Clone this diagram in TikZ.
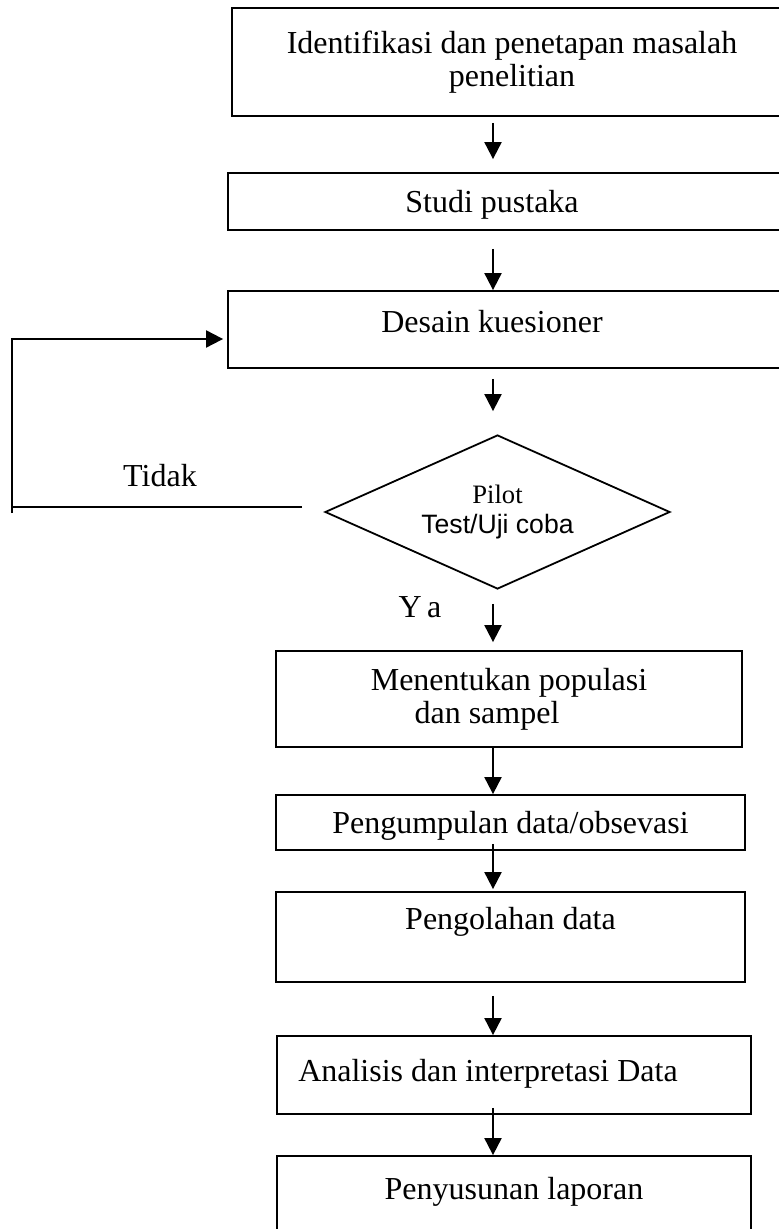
\documentclass[tikz,border=0pt]{standalone}
\usepackage{fontspec}
\setmainfont{Liberation Serif}
\newfontfamily\arialfont{Liberation Sans}
\usetikzlibrary{arrows.meta,positioning,shapes.geometric}

\begin{document}
\begin{tikzpicture}[x=0.5pt, y=-0.5pt, font=\fontsize{16}{16.5}\selectfont, box/.style={draw, line width=0.9pt, align=center, inner sep=0pt}, one/.style={text height=12pt, text depth=#1}, decide/.style={diamond, draw, line width=0.9pt, inner sep=0pt, aspect=2.24, minimum width=172.5pt, minimum height=77pt, align=center, font=\fontsize{13.3}{15}\selectfont}, arr/.style={-{Triangle[width=8.5pt,length=8.5pt]}, line width=1pt}, line/.style={line width=1pt}]
\useasboundingbox (0,0) rectangle (778,1229);
\node[box, minimum width=280pt, minimum height=54pt] (ident) at (512,62) {Identifikasi dan penetapan masalah\\penelitian};
\node[box, one=1pt, minimum width=286pt, minimum height=28.5pt] (studi) at (514,201.5) {Studi pustaka\hspace*{22pt}};
\node[box, one=8.5pt, minimum width=286pt, minimum height=38.5pt] (desain) at (514,329.5) {Desain kuesioner\hspace*{22pt}};
\node[decide] (pilot) at (497.5,512) {Pilot\\{\arialfont Test/Uji coba}};
\node[box, minimum width=233pt, minimum height=48pt] (popul) at (509,699) {Menentukan populasi\\dan sampel\hspace*{22pt}};
\node[box, one=1pt, minimum width=234.5pt, minimum height=27.5pt] (kumpul) at (510.5,822.5) {Pengumpulan data/obsevasi};
\node[box, one=20pt, minimum width=234.5pt, minimum height=45pt] (olah) at (510.5,937) {Pengolahan data};
\node[box, one=6pt, minimum width=237pt, minimum height=39pt] (analisis) at (514,1075) {Analisis dan interpretasi Data\hspace*{26pt}};
\node[box, one=16pt, minimum width=237pt, minimum height=47pt] (laporan) at (514,1203) {Penyusunan laporan};
\node (tidak) at (160,476) {Tidak};
\node (ya) at (420,607) {Y\,a};
\coordinate (ax) at (493,0);
\coordinate (nobranch) at (302,507);
\coordinate (nocorner) at (12,507);
% main flow
\draw[arr, shorten <=3pt, shorten >=6.5pt] (ident.south -| ax) -- (studi.north -| ax);
\draw[arr, shorten <=9pt] (studi.south -| ax) -- (desain.north -| ax);
\draw[arr, shorten <=5pt, shorten >=11.5pt] (desain.south -| ax) -- (pilot.north -| ax);
\draw[arr, shorten <=7pt, shorten >=4pt] (pilot.south -| ax) -- (popul.north -| ax);
\draw[arr] (popul.south -| ax) -- (kumpul.north -| ax);
\draw[arr, shorten <=-3.5pt, shorten >=1pt] (kumpul.south -| ax) -- (olah.north -| ax);
\draw[arr, shorten <=6.5pt] (olah.south -| ax) -- (analisis.north -| ax);
\draw[arr, shorten <=-3.5pt] (analisis.south -| ax) -- (laporan.north -| ax);
% Tidak loop back
\draw[line] (nobranch) -- (nocorner);
\draw[arr, shorten >=2pt] ([yshift=-3pt]nocorner) |- ([yshift=-4.75pt]desain.west);
\end{tikzpicture}
\end{document}
